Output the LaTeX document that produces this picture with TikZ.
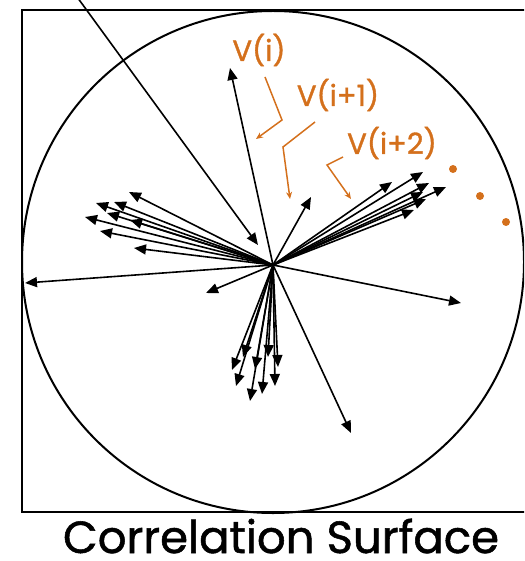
\documentclass[tikz,border=0pt]{standalone}
\usepackage{fontspec}
\setmainfont{Poppins}
\newfontfamily\boldish{Poppins}[FakeBold=1.2]
\usetikzlibrary{arrows.meta}
\definecolor{lblorange}{RGB}{212,112,28}
\begin{document}
\begin{tikzpicture}[x=1pt,y=-1pt,
  vec/.style={line width=1.6pt,-{Triangle[length=12pt,width=10pt]}},
  lead/.style={lblorange,line width=1.5pt,line join=miter,-{Stealth[length=7pt,width=6pt]}},
  lbl/.style={text=lblorange,font=\boldish\fontsize{29}{29}\selectfont,inner sep=0pt},
  frame/.style={line width=2.2pt},
  dotmark/.style={fill=lblorange}]
\useasboundingbox (0,0) rectangle (524,561);
\begin{scope}
\clip (0,0) rectangle (524,561);
\draw[frame] (540,10) -- (22,10) -- (22,512) -- (540,512);
\draw[line width=2pt] (273,262) circle [radius=251];
\coordinate (hub) at (273,265);
% single vectors
\coordinate (far) at (72,-10);
\coordinate (intip) at (258,245);
\draw[vec] (far) -- (intip);
\foreach \n/\px/\py in {up/230/68, upr/311/197, lft/25/283, dl/206/293,
                   rt/461/303, dr/351/433,
                   r1/423/172, r2/392/182, r3/429/183, r4/446/187,
                   r5/423/192, r6/426/199, r7/414/210,
                   l1/129/192, l2/96/203, l3/114/202, l4/107/213,
                   l5/85/217, l6/130/220, l7/100/231, l8/134/248,
                   d1/232/370, d2/236/386, d3/243/357, d4/250/401,
                   d5/255/369, d6/262/394, d7/268/357, d8/278/367,
                   d9/275/386}{
  \coordinate (\n) at (\px,\py);
  \draw[vec] (hub) -- (\n);
}
% labels
\node[lbl] (vi) at (259,50) {V(i)};
\node[lbl] (vi1) at (338,95) {V(i+1)};
\node[lbl] (vi2) at (392,143) {V(i+2)};
\coordinate (a0) at (265,77);
\coordinate (a1) at (282,120);
\coordinate (a2) at (256,139);
\draw[lead] (a0) -- (a1) -- (a2);
\coordinate (b0) at (315,122);
\coordinate (b1) at (283,147);
\coordinate (b2) at (290,199);
\draw[lead] (b0) -- (b1) -- (b2);
\coordinate (c0) at (343,157);
\coordinate (c1) at (327,165);
\coordinate (c2) at (351,199);
\draw[lead] (c0) -- (c1) -- (c2);
\fill[dotmark] (453,169) circle [radius=4];
\fill[dotmark] (480,196) circle [radius=4];
\fill[dotmark] (506,222) circle [radius=4];
\end{scope}
\node[font=\boldish\fontsize{45}{45}\selectfont, anchor=base, inner sep=0pt, text depth=0pt] (title) at (281,553) {Correlation Surface};
\end{tikzpicture}
\end{document}
